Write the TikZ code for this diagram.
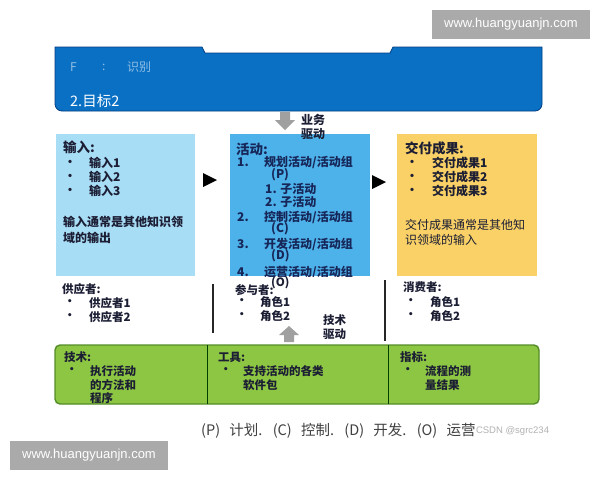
\documentclass[tikz,border=0pt]{standalone}
\usepackage{fontspec}
\setmainfont{Noto Sans CJK SC}
\newfontfamily\wmfont{Liberation Sans}
\newcommand\myfs[1]{\fontsize{#1}{#1}\selectfont}
\definecolor{bannerblue}{RGB}{10,112,196}
\definecolor{bannerline}{RGB}{0,62,130}
\definecolor{inbox}{RGB}{168,221,246}
\definecolor{actbox}{RGB}{78,178,234}
\definecolor{outbox}{RGB}{249,209,102}
\definecolor{greenbox}{RGB}{141,198,66}
\definecolor{greenline}{RGB}{84,140,40}
\definecolor{txtcol}{RGB}{28,30,52}
\definecolor{acttxt}{RGB}{22,38,88}
\definecolor{arrowgray}{RGB}{160,160,160}
\definecolor{wmgray}{RGB}{170,170,170}
\begin{document}
\begin{tikzpicture}[x=1pt,y=-1pt,
  tx/.style={anchor=west,inner sep=0pt,text=txtcol,font=\myfs{12}\bfseries},
  tn/.style={anchor=west,inner sep=0pt,text=txtcol,font=\myfs{12}},
  hd/.style={anchor=west,inner sep=0pt,text=txtcol,font=\myfs{13.5}\bfseries},
  actt/.style={anchor=west,inner sep=0pt,text=acttxt,font=\myfs{12}\bfseries},
  smt/.style={anchor=west,inner sep=0pt,text=txtcol,font=\myfs{11.5}\bfseries},
  wmbox/.style={fill=wmgray,text=white,font=\wmfont\myfs{13},inner sep=0pt,minimum width=158pt,minimum height=29pt},
  sepline/.style={draw=black!85,line width=1.2pt}
]
\useasboundingbox[fill=white] (0,0) rectangle (600,480);

% watermarks
\node[wmbox] (wmtop) at (511,24) {www.huangyuanjn.com};
\node[wmbox] (wmbot) at (89,455) {www.huangyuanjn.com};

% banner
\draw[fill=bannerblue,draw=bannerline,line width=0.8pt]
  (55,47) -- (202,47) -- (205,53) -- (390,53) -- (393,47) -- (542,47)
  [rounded corners=7pt] -- (542,111) -- (55,111) [sharp corners] -- cycle;
\node[anchor=west,inner sep=0pt,text=white,opacity=0.55,font=\myfs{12}] (bF) at (70,67) {F};
\node[anchor=west,inner sep=0pt,text=white,opacity=0.55,font=\myfs{12}] (bC) at (102,67) {:};
\node[anchor=west,inner sep=0pt,text=white,opacity=0.55,font=\myfs{12}] (bS) at (127,67) {识别};
\node[anchor=west,inner sep=0pt,text=white,font=\myfs{14.5}] (goal) at (70,101) {2.目标2};

% three boxes
\fill[inbox] (56,134) rectangle (195,276);
\fill[actbox] (230,134) rectangle (370,276);
\fill[outbox] (397,134) rectangle (537,276);

% business-driven arrow
\fill[arrowgray] (280,112) -- (290,112) -- (290,120) -- (295,120) -- (285,130) -- (275,120) -- (280,120) -- cycle;
\node[tx] (bd1) at (301,120) {业务};
\node[tx] (bd2) at (301,134) {驱动};

% black triangles
\fill[black] (203,173) -- (217,180) -- (203,187) -- cycle;
\fill[black] (372,175) -- (386,182) -- (372,189) -- cycle;

% input box
\node[hd] (inh) at (63,147) {输入:};
\node[tx] (inb1) at (64,163) {•};
\node[tx] (ini1) at (89,163) {输入1};
\node[tx] (inb2) at (64,177) {•};
\node[tx] (ini2) at (89,177) {输入2};
\node[tx] (inb3) at (64,191) {•};
\node[tx] (ini3) at (89,191) {输入3};
\node[tx] (ind1) at (63,222) {输入通常是其他知识领};
\node[tx] (ind2) at (63,238) {域的输出};

% activity box
\node[hd,text=acttxt] (acth) at (236,149) {活动:};
\node[actt] (a1n) at (237,162) {1.};
\node[actt] (a1) at (264,162) {规划活动/活动组};
\node[actt] (a1p) at (271,175) {(P)};
\node[actt] (a11) at (265,189) {1. 子活动};
\node[actt] (a12) at (265,202) {2. 子活动};
\node[actt] (a2n) at (237,217) {2.};
\node[actt] (a2) at (264,217) {控制活动/活动组};
\node[actt] (a2p) at (271,229) {(C)};
\node[actt] (a3n) at (237,244) {3.};
\node[actt] (a3) at (264,244) {开发活动/活动组};
\node[actt] (a3p) at (271,256) {(D)};
\begin{scope}
\clip (220,130) rectangle (380,276);
\node[actt] (a4n) at (237,272) {4.};
\node[actt] (a4) at (264,272) {运营活动/活动组};
\end{scope}

% output box
\node[hd] (outh) at (405,148) {交付成果:};
\node[tx] (ob1) at (406,163) {•};
\node[tx] (oi1) at (432,163) {交付成果1};
\node[tx] (ob2) at (406,177) {•};
\node[tx] (oi2) at (432,177) {交付成果2};
\node[tx] (ob3) at (406,191) {•};
\node[tx] (oi3) at (432,191) {交付成果3};
\node[tn] (od1) at (405,225) {交付成果通常是其他知};
\node[tn] (od2) at (405,240) {识领域的输入};

% separators
\draw[sepline] (213,284) -- (213,333);
\draw[sepline] (385,280) -- (385,341);

% suppliers
\node[smt] (suh) at (62,289) {供应者:};
\node[smt] (sub1) at (64,303) {•};
\node[smt] (sui1) at (89,303) {供应者1};
\node[smt] (sub2) at (64,317) {•};
\node[smt] (sui2) at (89,317) {供应者2};

% participants
\node[smt] (pah) at (235,290) {参与者:};
\node[smt] (pao) at (271,283) {(O)};
\node[smt] (pab1) at (236,302) {•};
\node[smt] (pai1) at (260,302) {角色1};
\node[smt] (pab2) at (236,316) {•};
\node[smt] (pai2) at (260,316) {角色2};
\node[smt] (td1) at (323,320) {技术};
\node[smt] (td2) at (323,334) {驱动};
\fill[arrowgray] (289,326) -- (299,335) -- (294,335) -- (294,342) -- (284,342) -- (284,335) -- (279,335) -- cycle;

% consumers
\node[smt] (coh) at (403,287) {消费者:};
\node[smt] (cob1) at (405,302) {•};
\node[smt] (coi1) at (430,302) {角色1};
\node[smt] (cob2) at (405,316) {•};
\node[smt] (coi2) at (430,316) {角色2};

% green box
\draw[fill=greenbox,draw=greenline,line width=1.4pt,rounded corners=5pt] (55,345) rectangle (539,404);
\draw[draw=black!75!green,line width=1pt] (207,345) -- (207,404);
\draw[draw=black!75!green,line width=1pt] (388,345) -- (388,404);
\node[smt] (g1h) at (64,357) {技术:};
\node[smt] (g1b) at (66,371) {•};
\node[smt] (g1a) at (90,371) {执行活动};
\node[smt] (g1c) at (90,385) {的方法和};
\node[smt] (g1d) at (90,398) {程序};
\node[smt] (g2h) at (218,357) {工具:};
\node[smt] (g2b) at (220,371) {•};
\node[smt] (g2a) at (243,371) {支持活动的各类};
\node[smt] (g2c) at (243,385) {软件包};
\node[smt] (g3h) at (400,357) {指标:};
\node[smt] (g3b) at (402,371) {•};
\node[smt] (g3a) at (425,371) {流程的测};
\node[smt] (g3c) at (425,385) {量结果};

% footer
\node[anchor=west,inner sep=0pt,text=black!75,font=\myfs{14.5}] (foot) at (201,431)
  {(P)\hspace{6pt} 计划.\hspace{6pt} (C)\hspace{6pt} 控制.\hspace{6pt} (D)\hspace{6pt} 开发.\hspace{6pt} (O)\hspace{6pt} 运营};
\node[anchor=west,inner sep=0pt,text=black!30,font=\wmfont\myfs{9.5}] (csdn) at (foot.east) {CSDN @sgrc234};
\end{tikzpicture}
\end{document}
